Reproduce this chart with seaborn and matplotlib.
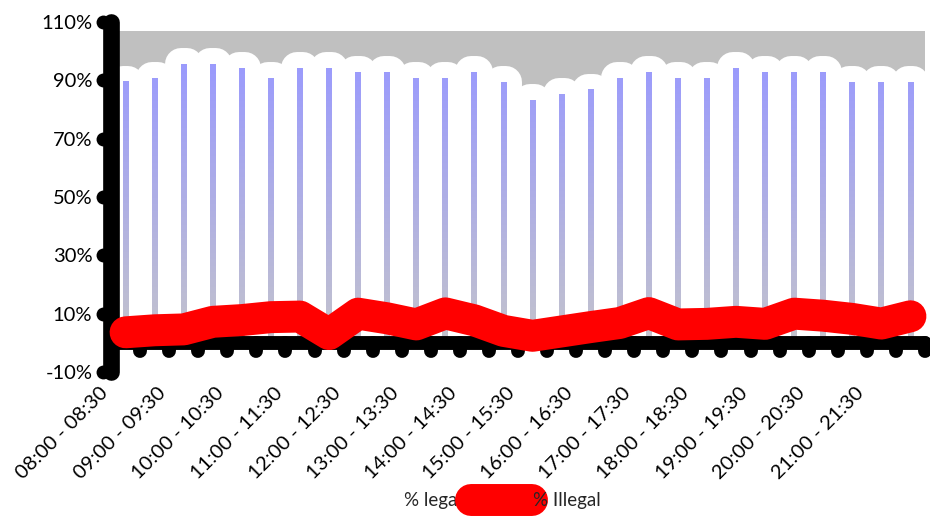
import numpy as np
import pandas as pd
import seaborn as sns
import matplotlib
matplotlib.use("Agg")
import matplotlib.pyplot as plt
from matplotlib import patheffects
from matplotlib.colors import LinearSegmentedColormap
from matplotlib.markers import MarkerStyle, TICKDOWN
from matplotlib.ticker import FuncFormatter
from matplotlib.transforms import ScaledTranslation

# Half-hour time slots
slots = [
    "08:00 - 08:30", "08:30 - 09:00", "09:00 - 09:30", "09:30 - 10:00",
    "10:00 - 10:30", "10:30 - 11:00", "11:00 - 11:30", "11:30 - 12:00",
    "12:00 - 12:30", "12:30 - 13:00", "13:00 - 13:30", "13:30 - 14:00",
    "14:00 - 14:30", "14:30 - 15:00", "15:00 - 15:30", "15:30 - 16:00",
    "16:00 - 16:30", "16:30 - 17:00", "17:00 - 17:30", "17:30 - 18:00",
    "18:00 - 18:30", "18:30 - 19:00", "19:00 - 19:30", "19:30 - 20:00",
    "20:00 - 20:30", "20:30 - 21:00", "21:00 - 21:30", "21:30 - 22:00",
]
# Share of legal / illegal parking per slot (%)
pct_legal = [89.5, 90.8, 95.6, 95.6, 94.2, 90.8, 94.2, 94.2, 92.9, 92.9,
             90.8, 90.8, 92.9, 89.4, 83.2, 85.3, 86.8, 90.8, 92.9, 90.8,
             90.8, 94.2, 92.9, 92.9, 92.9, 89.4, 89.4, 89.4]
pct_illegal = [3.6, 4.3, 4.6, 7.2, 7.8, 8.8, 9.0, 3.0, 10.0, 8.4,
               6.3, 10.1, 7.7, 4.1, 2.4, 3.9, 5.4, 6.8, 10.2, 6.3,
               6.5, 7.2, 6.5, 10.0, 9.3, 8.2, 6.6, 9.1]
y_ticks = [-10, 10, 30, 50, 70, 90, 110]
legend_labels = ["% legal", "% Illegal"]

df = pd.DataFrame({"slot": slots, "legal": pct_legal, "illegal": pct_illegal})

sns.set_theme(style="white")
plt.rcParams["font.family"] = ["Lato", "DejaVu Sans"]
plt.rcParams["axes.unicode_minus"] = False
plt.rcParams["xtick.bottom"] = True

fig = plt.figure(figsize=(9.3, 5.16), dpi=100)
ax = fig.add_axes([0.1194, 0.2791, 0.8752, 0.6783])
ax.set_axisbelow(False)

# grey band behind the bars
ax.axhspan(0, 107, color="#c0c0c0", lw=0, zorder=0.5)

# thin bars with a wide white halo
sns.barplot(data=df, x="slot", y="legal", color="white", width=0.2,
            linewidth=0, saturation=1, ax=ax, zorder=1)
bars = ax.containers[0]
bars.set_label(legend_labels[0])
halo = [patheffects.withStroke(linewidth=23, foreground="white",
                               joinstyle="round")]
for rect in bars:
    rect.set_path_effects(halo)

# vertical gradient fill inside each bar
cmap = LinearSegmentedColormap.from_list("barfade", ["#c3c3cc", "#9999ff"])
for rect in bars:
    x0, w, h = rect.get_x(), rect.get_width(), rect.get_height()
    grad = np.linspace(0, h, 128).reshape(-1, 1)
    ax.imshow(grad, extent=(x0, x0 + w, 0, h), origin="lower", cmap=cmap,
              vmin=0, vmax=100, aspect="auto", zorder=1.5,
              interpolation="bilinear")

# illegal share as a heavy red line
sns.lineplot(x=np.arange(len(slots)), y=df["illegal"], color="#ff0000",
             linewidth=23, ax=ax, label=legend_labels[1], legend=False)
red = ax.lines[-1]
red.set_solid_capstyle("round")
red.set_solid_joinstyle("round")
red.set_zorder(4)
red.set_clip_on(False)

ax.set_xlim(-0.5, len(slots) - 0.5)
ax.set_ylim(-10, 110)
ax.set_xlabel("")
ax.set_ylabel("")

# axes styling: heavy black spines with rounded ends
for side in ("top", "right"):
    ax.spines[side].set_visible(False)
ax.spines["left"].set_linewidth(12)
ax.spines["left"].set_capstyle("round")
ax.spines["left"].set_color("black")
ax.spines["bottom"].set_position(("data", 0))
ax.spines["bottom"].set_linewidth(10)
ax.spines["bottom"].set_capstyle("round")
ax.spines["bottom"].set_color("black")

ax.set_yticks(y_ticks)
ax.yaxis.set_major_formatter(FuncFormatter(lambda v, p: f"{v:.0f}%"))

xpos = np.arange(len(slots) + 1) - 0.5
xlabels = [slots[i] if (i % 2 == 0 and i < len(slots)) else ""
           for i in range(len(xpos))]
ax.set_xticks(xpos)
ax.set_xticklabels(xlabels, rotation=45, ha="right")

ax.tick_params(axis="y", direction="out", length=6, width=0, color="black",
               labelsize=14.5, pad=7.5, labelcolor="black")
ax.tick_params(axis="x", direction="out", length=6, width=10, color="black",
               labelsize=14.5, pad=24, labelcolor="black", bottom=True)

# round tick knobs on the y axis, sitting at the end of each tick
knob_shift = ScaledTranslation(-6 / 72, 0, fig.dpi_scale_trans)
ax.plot(np.zeros(len(y_ticks)), y_ticks, "o", ms=10, mew=0, color="black",
        transform=ax.get_yaxis_transform() + knob_shift, clip_on=False,
        zorder=2.4)

leg = fig.legend(handles=[bars, red], labels=legend_labels, loc="lower center",
                 bbox_to_anchor=(0.507, -0.02), ncol=2, frameon=False,
                 fontsize=13.5, handlelength=3.24, handletextpad=0.06,
                 columnspacing=0.48)
for h in leg.legend_handles:
    h.set_path_effects([])

# round-ended tick marks on the x axis (set after the ticks exist)
fig.canvas.draw()
for t in ax.xaxis.get_major_ticks():
    t.tick1line.set_marker(MarkerStyle(TICKDOWN, capstyle="round"))

fig.savefig("out.png", dpi=100)
